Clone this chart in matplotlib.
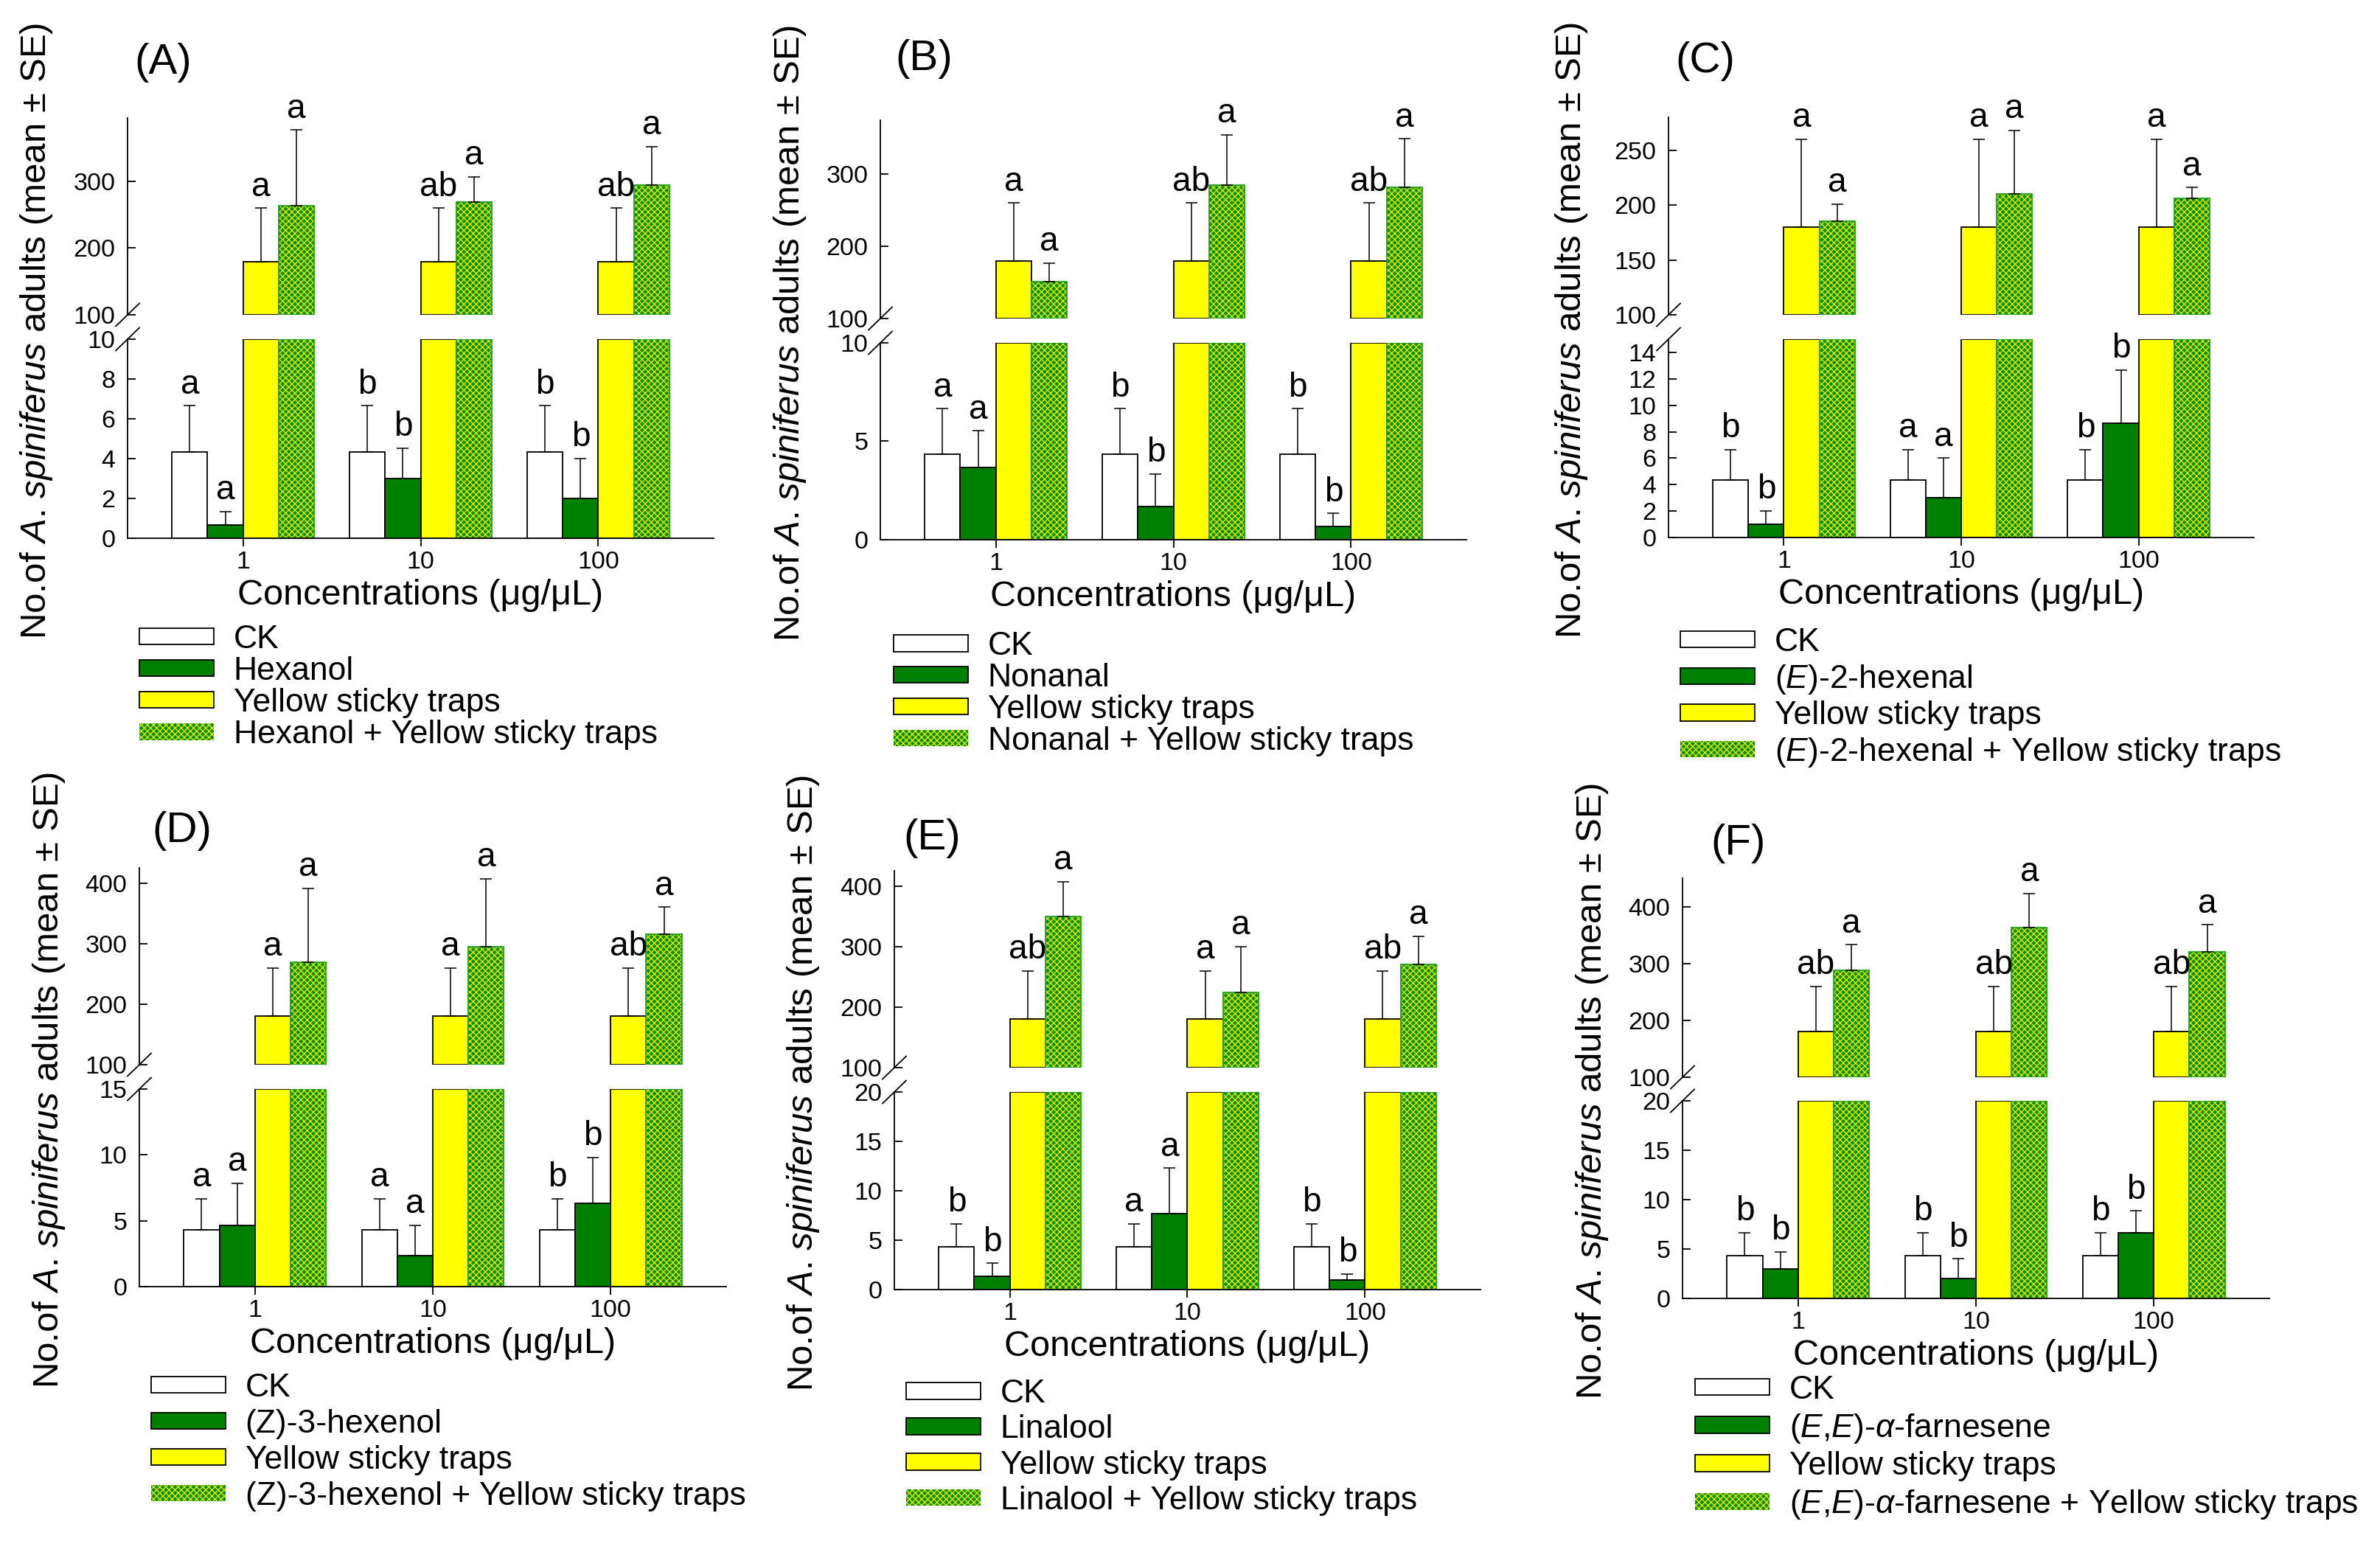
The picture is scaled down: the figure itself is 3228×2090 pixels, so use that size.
import numpy as np
import matplotlib
matplotlib.use('Agg')
from matplotlib import pyplot as plt
from matplotlib.lines import Line2D
from matplotlib.patches import Patch

plt.rcParams['font.family'] = ['Liberation Sans', 'DejaVu Sans']
plt.rcParams['mathtext.fontset'] = 'custom'
plt.rcParams['mathtext.rm'] = 'Liberation Sans'
plt.rcParams['mathtext.it'] = 'Liberation Sans:italic'
plt.rcParams['hatch.linewidth'] = 0.9

# ---- data ----
concentrations = ['1', '10', '100']
panel_tags = ['(A)', '(B)', '(C)', '(D)', '(E)', '(F)']
voc_names = ['Hexanol', 'Nonanal', '($E$)-2-hexenal', '(Z)-3-hexenol', 'Linalool',
             '($E$,$E$)-$\\alpha$-farnesene']

ck_mean = [4.33, 4.33, 4.33]
ck_se = [2.33, 2.33, 2.33]
ysp_mean = [180, 180, 180]
ysp_se = [80, 80, 80]

voc_mean = [[0.67, 3.0, 2.0],
            [3.67, 1.67, 0.67],
            [1.0, 3.0, 8.67],
            [4.67, 2.33, 6.33],
            [1.33, 7.67, 1.0],
            [3.0, 2.0, 6.67]]
voc_se = [[0.67, 1.53, 2.0],
          [1.86, 1.67, 0.67],
          [1.0, 3.0, 4.0],
          [3.18, 2.33, 3.48],
          [1.33, 4.63, 0.58],
          [1.73, 2.0, 2.19]]
mix_mean = [[264, 269, 294],
            [151, 285, 282],
            [185, 210, 206],
            [269, 295, 315],
            [350, 224, 271],
            [288, 363, 320]]
mix_se = [[113, 38, 58],
          [26, 70, 67],
          [16, 58, 10],
          [122, 112, 45],
          [57, 76, 46],
          [45, 60, 48]]

ck_letters = [['a', 'b', 'b'], ['a', 'b', 'b'], ['b', 'a', 'b'],
              ['a', 'a', 'b'], ['b', 'a', 'b'], ['b', 'b', 'b']]
voc_letters = [['a', 'b', 'b'], ['a', 'b', 'b'], ['b', 'a', 'b'],
               ['a', 'a', 'b'], ['b', 'a', 'b'], ['b', 'b', 'b']]
ysp_letters = [['a', 'ab', 'ab'], ['a', 'ab', 'ab'], ['a', 'a', 'a'],
               ['a', 'a', 'ab'], ['ab', 'a', 'ab'], ['ab', 'ab', 'ab']]
mix_letters = [['a', 'a', 'a']] * 6

# axis ranges of the broken y axes
low_top = [10, 10, 15, 15, 20, 20]
low_ticks = [[0, 2, 4, 6, 8, 10], [0, 5, 10], list(range(0, 15, 2)),
             [0, 5, 10, 15], [0, 5, 10, 15, 20], [0, 5, 10, 15, 20]]
up_top = [395, 375, 280, 425, 425, 450]
up_ticks = [[100, 200, 300], [100, 200, 300], [100, 150, 200, 250],
            [100, 200, 300, 400], [100, 200, 300, 400], [100, 200, 300, 400]]

# ---- layout, in pixels of the 3228 x 2090 canvas ----
W, H = 3228, 2090
# spine x, right x, upper top y, upper bottom y, lower top y, lower bottom y
boxes = [(173, 968, 160, 427, 460, 730),
         (1194, 1989, 163, 432, 465, 732),
         (2263, 3057, 159, 427, 460, 729),
         (189, 985, 1177, 1444, 1477, 1745),
         (1213, 2008, 1181, 1448, 1481, 1749),
         (2282, 3078, 1191, 1461, 1493, 1761)]
tag_pos = [(221, 85), (1253, 80), (2313, 83), (247, 1127), (1264, 1137), (2358, 1144)]
ylab_x = [50, 1072, 2131, 67, 1090, 2160]
leg_pos = [(189, 932), (1212, 941), (2279, 947), (205, 1956), (1229, 1963), (2299, 1964)]
leg_space = [0.05, 0.04, 0.15, 0.18, 0.16, 0.2]

GREEN = '#008000'
YELLOW = '#ffff00'
MIX_BG = '#0a8f00'
MIX_HATCH = '#f0f000'
MIX_EDGE = '#22a022'
HATCH = 'xxxx'
BW = 0.2


def to_fig(x0, x1, ytop, ybot):
    return [x0 / W, 1 - ybot / H, (x1 - x0) / W, (ybot - ytop) / H]


def letters(ax, xs, tops, labels):
    for x, t, s in zip(xs, tops, labels):
        ax.annotate(s, (x, t), xytext=(0, 12), textcoords='offset points',
                    ha='center', va='baseline', fontsize=33, annotation_clip=False)


def hatched_bars(ax, xs, heights, bottom=0.0):
    ax.bar(xs, heights, BW, bottom=bottom, color=MIX_BG, edgecolor=MIX_HATCH,
           linewidth=0, hatch=HATCH)
    ax.bar(xs, heights, BW, bottom=bottom, fill=False, edgecolor=MIX_EDGE, linewidth=1.3)


fig = plt.figure(figsize=(W / 100, H / 100), dpi=100)
fig.patch.set_facecolor('white')
x = np.arange(len(concentrations))
x_ck, x_voc, x_ysp, x_mix = x - 0.3, x - 0.1, x + 0.1, x + 0.3

for i in range(6):
    sx, rx, ut, ub, lt, lb = boxes[i]
    ax_up = fig.add_axes(to_fig(sx, rx, ut, ub))
    ax_lo = fig.add_axes(to_fig(sx, rx, lt, lb))

    # lower part
    lo = low_top[i]
    ax_lo.bar(x_ck, ck_mean, BW, color='white', edgecolor='black', linewidth=1.3)
    ax_lo.bar(x_voc, voc_mean[i], BW, color=GREEN, edgecolor='black', linewidth=1.3)
    ax_lo.bar(x_ysp, np.minimum(ysp_mean, lo), BW, color=YELLOW, edgecolor='black',
              linewidth=1.3)
    hatched_bars(ax_lo, x_mix, np.minimum(mix_mean[i], lo))
    for xs, m, se in ((x_ck, ck_mean, ck_se), (x_voc, voc_mean[i], voc_se[i])):
        ax_lo.errorbar(xs, m, yerr=[np.zeros(3), se], fmt='none', ecolor='black',
                       elinewidth=1.1, capsize=6, capthick=1.1)
    letters(ax_lo, x_ck, np.add(ck_mean, ck_se), ck_letters[i])
    letters(ax_lo, x_voc, np.add(voc_mean[i], voc_se[i]), voc_letters[i])
    ax_lo.set_ylim(0, lo)
    ax_lo.set_yticks(low_ticks[i])
    ax_lo.set_xlim(-0.65, 2.65)
    ax_lo.set_xticks(x)
    ax_lo.set_xticklabels(concentrations)
    ax_lo.set_xlabel('Concentrations (μg/μL)', fontsize=35, labelpad=5)

    # upper part
    b0 = 100
    ax_up.bar(x_ysp, np.subtract(ysp_mean, b0), BW, bottom=b0, color=YELLOW,
              edgecolor='black', linewidth=1.3)
    hatched_bars(ax_up, x_mix, np.subtract(mix_mean[i], b0), bottom=b0)
    for xs, m, se in ((x_ysp, ysp_mean, ysp_se), (x_mix, mix_mean[i], mix_se[i])):
        ax_up.errorbar(xs, m, yerr=[np.zeros(3), se], fmt='none', ecolor='black',
                       elinewidth=1.1, capsize=6, capthick=1.1)
    letters(ax_up, x_ysp, np.add(ysp_mean, ysp_se), ysp_letters[i])
    letters(ax_up, x_mix, np.add(mix_mean[i], mix_se[i]), mix_letters[i])
    ax_up.set_ylim(b0, up_top[i])
    ax_up.set_yticks(up_ticks[i])
    ax_up.set_xlim(-0.65, 2.65)
    ax_up.set_xticks([])

    for ax in (ax_up, ax_lo):
        ax.set_facecolor('none')
        ax.spines['top'].set_visible(False)
        ax.spines['right'].set_visible(False)
        for sp in ax.spines.values():
            sp.set_linewidth(1.3)
        ax.tick_params(axis='y', direction='in', length=8, width=1.3,
                       labelsize=24.5, pad=12)
    ax_up.spines['bottom'].set_visible(False)
    ax_lo.tick_params(axis='x', direction='out', length=8, width=1.3,
                      labelsize=24.5, pad=4)

    # break marks on the y axis
    for yb in (ub, lt):
        fig.add_artist(Line2D([(sx - 16) / W, (sx + 16) / W],
                              [1 - (yb + 15.5) / H, 1 - (yb - 15.5) / H],
                              color='black', linewidth=1.3))

    tx, ty = tag_pos[i]
    fig.text(tx / W, 1 - ty / H, panel_tags[i], fontsize=42, ha='center', va='center')
    fig.text(ylab_x[i] / W, 1 - ((ut + lb) / 2 + 4) / H,
             'No.of $A$. $spiniferus$ adults (mean ± SE)', rotation=90,
             fontsize=35.5, ha='center', va='center')

    handles = [Patch(facecolor='white', edgecolor='black', linewidth=1.3),
               Patch(facecolor=GREEN, edgecolor='black', linewidth=1.3),
               Patch(facecolor=YELLOW, edgecolor='black', linewidth=1.3),
               Patch(facecolor=MIX_BG, edgecolor=MIX_HATCH, linewidth=0, hatch=HATCH)]
    labels = ['CK', voc_names[i], 'Yellow sticky traps',
              voc_names[i] + ' + Yellow sticky traps']
    lx, ly = leg_pos[i]
    ax_lo.legend(handles, labels, loc='center left', bbox_to_anchor=(lx / W, 1 - ly / H),
                 bbox_transform=fig.transFigure, frameon=False, fontsize=32,
                 handlelength=2.27, handleheight=0.4, handletextpad=0.6,
                 borderpad=0, borderaxespad=0, labelspacing=leg_space[i])

fig.savefig('out.png', dpi=100, facecolor='white')
